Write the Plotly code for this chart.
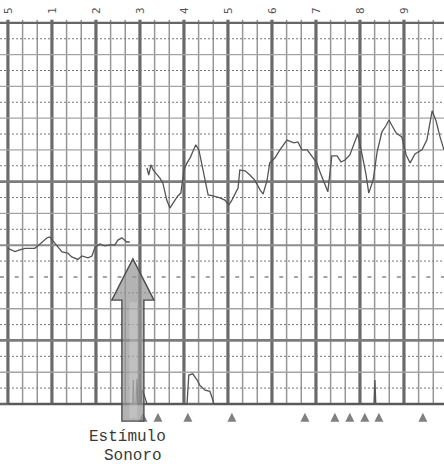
import plotly.graph_objects as go

# ---------------- data ----------------
# Fetal heart rate before the sound stimulus (minutes, bpm)
fhr_pre_t = [0.00, 0.16, 0.27, 0.39, 0.50, 0.61, 0.73, 0.82, 0.89, 0.95, 1.02, 1.14, 1.23,
             1.36, 1.45, 1.59, 1.68, 1.82, 1.91, 1.98, 2.09, 2.20, 2.32, 2.43, 2.50, 2.59,
             2.70, 2.77]
fhr_pre_bpm = [139, 138, 138.5, 139, 139, 139, 140.4, 141.6, 142.3, 142.6, 141.3, 139.4, 137.9,
               137.5, 136.3, 135.5, 136.6, 136.0, 136.6, 139.4, 140.4, 139.8, 140.1, 140.1,
               141.6, 142.3, 141.0, 141.0]

# Fetal heart rate after the sound stimulus (minutes, bpm)
fhr_post_t = [3.16, 3.20, 3.25, 3.30, 3.36, 3.45, 3.52, 3.61, 3.68, 3.77, 3.86, 3.93, 4.00,
              4.07, 4.14, 4.20, 4.27, 4.34, 4.41, 4.48, 4.55, 4.66, 4.82, 4.93, 5.02, 5.09,
              5.16, 5.23, 5.27, 5.39, 5.50, 5.61, 5.73, 5.80, 5.89, 5.95, 6.07, 6.18, 6.34,
              6.50, 6.59, 6.68, 6.80, 6.91, 7.02, 7.09, 7.18, 7.27, 7.36, 7.48, 7.57, 7.66,
              7.77, 7.89, 7.95, 8.05, 8.14, 8.20, 8.30, 8.39, 8.50, 8.59, 8.66, 8.73, 8.82,
              8.95, 9.05, 9.14, 9.25, 9.41, 9.52, 9.64, 9.73, 9.82, 9.91]
fhr_post_bpm = [164.3, 162.1, 165.3, 163.7, 162.7, 161.2, 159.6, 154.2, 151.7, 153.6, 155.5,
                156.4, 163.7, 165.9, 167.5, 169.4, 171.6, 170.0, 165.3, 160.5, 155.8, 155.5,
                154.9, 154.2, 152.7, 154.2, 156.1, 158.0, 163.7, 163.4, 162.1, 160.5, 157.4,
                156.1, 160.5, 165.9, 167.5, 170.0, 173.1, 172.2, 172.5, 170.0, 170.0, 168.1,
                165.9, 163.1, 159.6, 156.8, 168.1, 168.1, 166.2, 166.8, 168.4, 172.5, 175.0,
                168.4, 162.1, 156.4, 160.5, 169.4, 175.7, 177.6, 179.4, 177.6, 175.4, 174.1,
                168.4, 165.9, 168.7, 170.0, 173.1, 182.3, 179.1, 174.1, 170.0]

# Uterine activity (toco) trace (minutes, units)
toco_t = [0.00, 2.84, 2.85, 2.86, 2.91, 2.93, 2.95, 3.02, 3.05, 3.09, 3.16, 4.07, 4.11, 4.20,
          4.30, 4.36, 4.48, 4.59, 4.64, 4.68, 8.32, 8.34, 8.36, 9.91]
toco_val = [0, 0, 19, 0, 0, 20, 0, 0, 11, 8, 0, 0, 23, 24, 19, 15, 11, 10, 5, 0, 0, 19, 0, 0]

# Event marks (fetal movements), minutes
event_t = [3.07, 3.41, 4.09, 5.09, 6.75, 7.43, 7.77, 8.11, 8.43, 9.43]

# Sound stimulus time (minutes)
stim_time = 2.84

# Minute tick labels printed on the paper
minute_ticks = [0, 1, 2, 3, 4, 5, 6, 7, 8, 9]
minute_labels = ["5", "1", "2", "3", "4", "5", "6", "7", "8", "9"]

# FHR grid lines (bpm)
bpm_lines = [90, 100, 110, 120, 130, 140, 150, 160, 170, 180, 190, 200, 210]

# ---------------- figure ----------------
X_RANGE = [-0.18, 9.91]
Y_RANGE = [71.1, 217.2]

fig = go.Figure()

shapes = []
# vertical grid (every 20 s, thick every minute)
for k in range(0, 30):
    m = k / 3.0
    major = (k % 3 == 0)
    shapes.append(dict(type="line", xref="x", yref="y", x0=m, x1=m, y0=90, y1=211,
                       line=dict(color="#6a6a6a" if major else "#969696",
                                 width=3.2 if major else 1.5),
                       layer="below"))
# horizontal grid
for v in bpm_lines:
    if v == 130:
        ln = dict(color="#888", width=1.5, dash="4px,10.7px")
    elif v in (210, 90):
        ln = dict(color="#666", width=2.4)
    elif v in (160, 110):
        ln = dict(color="#7c7c7c", width=2.8)
    elif v == 140:
        ln = dict(color="#8c8c8c", width=2.0)
    else:
        ln = dict(color="#a4a4a4", width=1.4)
    shapes.append(dict(type="line", xref="x", yref="y", x0=X_RANGE[0], x1=X_RANGE[1],
                       y0=v, y1=v, line=ln, layer="below"))
for v in bpm_lines[:-1]:
    shapes.append(dict(type="line", xref="x", yref="y", x0=X_RANGE[0], x1=X_RANGE[1],
                       y0=v + 5, y1=v + 5,
                       line=dict(color="#777", width=1, dash="2px,2px"), layer="below"))

# Stimulus arrow (semi transparent grey)
head_half = 0.48
shaft_half = 0.25
shapes.append(dict(type="path", xref="x", yref="y", layer="above",
                   path=(f"M {stim_time - shaft_half} 84.6 L {stim_time - shaft_half} 122.7 "
                         f"L {stim_time - head_half} 122.7 L {stim_time} 135.7 "
                         f"L {stim_time + head_half} 122.7 L {stim_time + shaft_half} 122.7 "
                         f"L {stim_time + shaft_half} 84.6 Z"),
                   fillcolor="rgba(150,150,150,0.72)",
                   line=dict(color="#4e4e4e", width=1.4)))
shapes.append(dict(type="rect", xref="x", yref="y", layer="above",
                   x0=stim_time - 0.08, x1=stim_time + 0.10, y0=85.5, y1=122,
                   fillcolor="rgba(255,255,255,0.18)", line=dict(width=0)))

fig.add_trace(go.Scatter(x=fhr_pre_t, y=fhr_pre_bpm, mode="lines",
                         line=dict(color="#555", width=1.3), showlegend=False))
fig.add_trace(go.Scatter(x=fhr_post_t, y=fhr_post_bpm, mode="lines",
                         line=dict(color="#555", width=1.3), showlegend=False))
fig.add_trace(go.Scatter(x=toco_t, y=toco_val, mode="lines", yaxis="y2",
                         line=dict(color="#555", width=1.3), showlegend=False))
fig.add_trace(go.Scatter(x=event_t, y=[87.2] * len(event_t), mode="markers",
                         marker=dict(symbol="arrow-up", size=9, color="#808080"),
                         showlegend=False))

annotations = []
for t, lab in zip(minute_ticks, minute_labels):
    annotations.append(dict(x=t, y=214, xref="x", yref="y", text=lab, showarrow=False,
                            textangle=-90, font=dict(family="DejaVu Sans Mono", size=11,
                                                     color="#555")))
annotations.append(dict(x=2.72, y=79.6, xref="x", yref="y", text="Estímulo",
                        showarrow=False, borderpad=0,
                        font=dict(family="Liberation Mono", size=16, color="#3a3a3a")))
annotations.append(dict(x=2.85, y=73.6, xref="x", yref="y", text="Sonoro",
                        showarrow=False, borderpad=0,
                        font=dict(family="Liberation Mono", size=16, color="#3a3a3a")))

fig.update_layout(
    width=444, height=464,
    margin=dict(l=0, r=0, t=0, b=0),
    paper_bgcolor="white", plot_bgcolor="white",
    xaxis=dict(range=X_RANGE, visible=False, showgrid=False, zeroline=False),
    yaxis=dict(range=Y_RANGE, visible=False, showgrid=False, zeroline=False),
    yaxis2=dict(range=[-47.6, 320.6], overlaying="y", visible=False, showgrid=False,
                zeroline=False),
    shapes=shapes,
    annotations=annotations,
)

fig.write_html("out.html",
               config={"displayModeBar": False},
               post_script="document.body.style.margin='0px';"
                           "document.body.style.overflow='hidden';")
